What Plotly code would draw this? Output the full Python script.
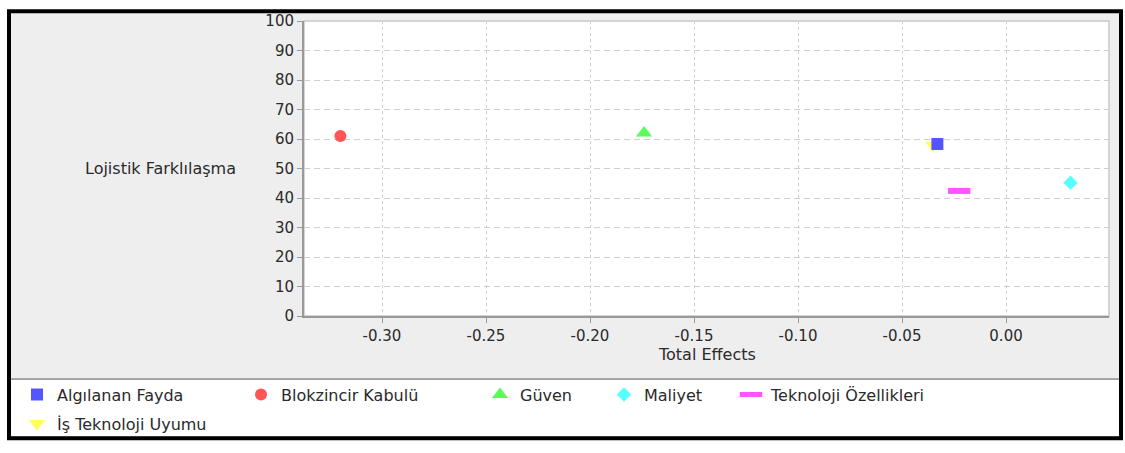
import plotly.graph_objects as go

# data
categories = ['Algılanan Fayda', 'Blokzincir Kabulü', 'Güven', 'Maliyet', 'Teknoloji Özellikleri', 'İş Teknoloji Uyumu']
total_effects = [-0.033, -0.320, -0.174, 0.031, -0.0225, -0.035]
lojistik_farklilasma = [58.3, 61.0, 62.0, 45.2, 42.4, 57.9]
x_tick_values = [-0.30, -0.25, -0.20, -0.15, -0.10, -0.05, 0.00]
x_tick_labels = ['-0.30', '-0.25', '-0.20', '-0.15', '-0.10', '-0.05', '0.00']
y_tick_values = list(range(0, 101, 10))

# page geometry
W, H = 1125, 453
M_L, M_R, M_T, M_B = 304, 16, 15, 134
PW, PH = W - M_L - M_R, H - M_T - M_B
FONT = 'DejaVu Sans'
TEXT = '#2a2a2a'


def px_x(p):
	# page pixel -> paper fraction
	return (p - M_L) / PW


def px_y(p):
	return (H - M_B - p) / PH


# jfreechart default series paints
markers = [
	dict(symbol='square', size=12, color='#5555ff'),
	dict(symbol='circle', size=12, color='#ff5555'),
	dict(symbol='triangle-up', size=14, color='#55ff55'),
	dict(symbol='diamond', size=11, color='#55ffff'),
	dict(symbol='line-ew', size=16, color='#ff55ff', line=dict(color='#ff55ff', width=6)),
	dict(symbol='triangle-down', size=14, color='#ffff55'),
]
# legend entry placement (symbol centre in page px, row centre)
legend_pos = [(37, 400), (261, 400), (500, 400), (624, 400), (751, 400), (37, 430)]

fig = go.Figure()

# series drawn in reverse order, first series ends up on top
for i in reversed(range(len(categories))):
	name = 'legend' if i == 0 else f'legend{i + 1}'
	fig.add_trace(go.Scatter(
		x=[total_effects[i]],
		y=[lojistik_farklilasma[i]],
		mode='markers',
		name=categories[i],
		marker=markers[i],
		legend=name,
	))
	lx, ly = legend_pos[i]
	fig.update_layout({name: dict(
		x=px_x(lx - 20),
		y=px_y(ly),
		xanchor='left',
		yanchor='middle',
		bgcolor='rgba(0,0,0,0)',
		borderwidth=0,
		font=dict(family=FONT, size=16, color=TEXT),
	)})

shapes = [
	# grey chart panel
	dict(type='rect', xref='paper', yref='paper', x0=px_x(9), x1=px_x(1120), y0=px_y(384), y1=px_y(5),
		fillcolor='#eeeeee', line=dict(width=0), layer='below'),
	# white plot area with light outline
	dict(type='rect', xref='paper', yref='paper', x0=0, x1=1, y0=0, y1=1,
		fillcolor='white', line=dict(color='#c8c8c8', width=1.5), layer='below'),
	# legend frame
	dict(type='rect', xref='paper', yref='paper', x0=px_x(9), x1=px_x(1120), y0=px_y(444), y1=px_y(384),
		fillcolor='white', line=dict(color='#555555', width=1), layer='below'),
	# outer black border
	dict(type='rect', xref='paper', yref='paper', x0=px_x(9), x1=px_x(1121), y0=px_y(445), y1=px_y(5),
		fillcolor='rgba(0,0,0,0)', line=dict(color='black', width=4), layer='above'),
]

fig.update_layout(
	width=W,
	height=H,
	margin=dict(l=M_L, r=M_R, t=M_T, b=M_B),
	paper_bgcolor='white',
	plot_bgcolor='white',
	font=dict(family=FONT, color=TEXT),
	showlegend=True,
	shapes=shapes,
	annotations=[
		dict(text='Lojistik Farklılaşma', xref='paper', yref='y', x=px_x(238), y=50,
			xanchor='right', yanchor='middle', showarrow=False, font=dict(size=16, color=TEXT)),
		dict(text='Total Effects', xref='paper', yref='paper', x=0.5, y=px_y(359),
			xanchor='center', yanchor='middle', showarrow=False, font=dict(size=16, color=TEXT)),
	],
)

fig.update_xaxes(
	range=[-0.3375, 0.0495],
	tickvals=x_tick_values,
	ticktext=x_tick_labels,
	tickfont=dict(size=15, color=TEXT),
	ticks='outside', ticklen=5, tickcolor='#999999',
	showline=True, linecolor='#999999', linewidth=2,
	showgrid=True, gridcolor='#d0d0d0', griddash='3px,3px', gridwidth=1,
	zeroline=False,
)
fig.update_yaxes(
	range=[0, 100],
	tickvals=y_tick_values,
	tickfont=dict(size=15, color=TEXT),
	ticks='outside', ticklen=5, tickcolor='#999999',
	showline=True, linecolor='#999999', linewidth=2,
	showgrid=True, gridcolor='#d0d0d0', griddash='6px,4px', gridwidth=1,
	zeroline=False,
)

# pin the figure to the window corner so the page is exactly the window size
pin = (
	"document.body.style.margin='0';"
	"var gd=document.getElementsByClassName('plotly-graph-div')[0];"
	"gd.style.position='fixed';gd.style.left='0';gd.style.top='0';"
)
fig.write_html('out.html', config={'displayModeBar': False}, post_script=pin)
